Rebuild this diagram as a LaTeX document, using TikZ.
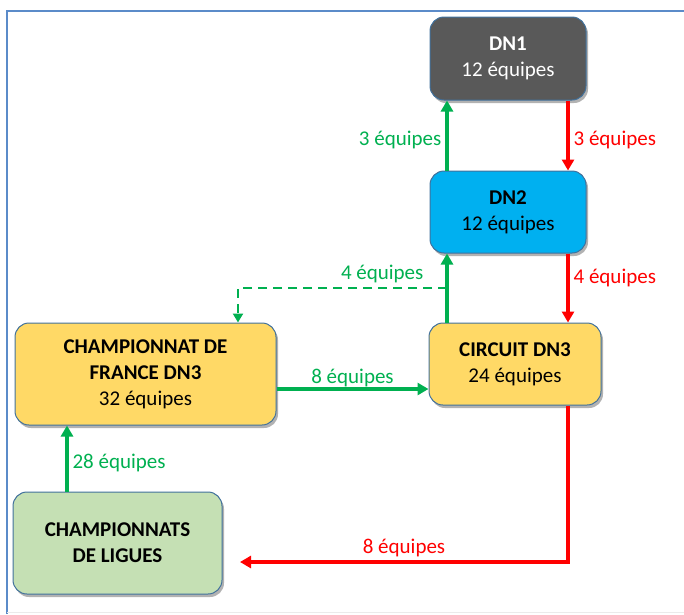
\documentclass[tikz,border=0pt]{standalone}
\usepackage{fontspec}
\setmainfont{Carlito}
\usetikzlibrary{arrows.meta,shadows}

\definecolor{grisdn}{HTML}{595959}
\definecolor{bleudn}{HTML}{00B0F0}
\definecolor{jaunedn}{HTML}{FFD966}
\definecolor{vertligue}{HTML}{C5E0B4}
\definecolor{bordure}{HTML}{41719C}
\definecolor{cadre}{HTML}{5B8BC9}
\definecolor{montee}{HTML}{00B050}
\definecolor{descente}{HTML}{FF0000}

\tikzset{
  box/.style={draw=bordure, line width=1pt, rounded corners=14pt, align=center,
    inner sep=0pt, font=\fontsize{21}{26}\selectfont,
    drop shadow={shadow xshift=2pt, shadow yshift=-3pt, opacity=.3, fill=black}},
  fleche/.style={line width=3.2pt, -{Triangle[width=12pt,length=11pt]}},
  lbl/.style={inner sep=4pt, font=\fontsize{21}{24}\selectfont},
  bas/.style={yshift=-4pt}
}

\begin{document}
\begin{tikzpicture}[x=1pt,y=-1pt]
      \useasboundingbox (0,0) rectangle (684,614);
      \draw[cadre, line width=2pt] (7,614) -- (7,11) -- (684,11);
      \draw[black!8, line width=1pt] (7,612) -- (684,612);

      \begin{scope}[every node/.style={box}]
        \node[fill=grisdn, text=white, minimum width=156pt, minimum height=83pt]
          (dn1) at (508,58.5) {\textbf{DN1}\\12 équipes};
        \node[fill=bleudn, minimum width=156pt, minimum height=82pt]
          (dn2) at (508,212) {\textbf{DN2}\\12 équipes};
        \node[fill=jaunedn, minimum width=172pt, minimum height=82pt]
          (circuit) at (515,364) {\textbf{CIRCUIT DN3}\\24 équipes};
        \node[fill=jaunedn, minimum width=261pt, minimum height=102pt]
          (france) at (145.5,374) {\textbf{CHAMPIONNAT DE}\\\textbf{FRANCE DN3}\\32 équipes};
        \node[fill=vertligue, minimum width=209pt, minimum height=102pt]
          (ligues) at (117.5,543) {\textbf{CHAMPIONNATS}\\\textbf{DE LIGUES}};
      \end{scope}

      % colonnes des fleches
      \coordinate (up)   at (447,0);
      \coordinate (down) at (568,0);
      \coordinate (fork) at (447,288);
      \coordinate (cf)   at (238,0);
      \coordinate (mid)  at (0,389);
      \coordinate (lcol) at (67,0);
      \coordinate (ret)  at (240,562);

      \begin{scope}[every node/.style={lbl}]
        \draw[fleche, montee] (dn2.north -| up) -- node[left, bas, text=montee] {3 équipes} (dn1.south -| up);
        \draw[fleche, descente] (dn1.south -| down) -- node[right, bas, text=descente] {3 équipes} (dn2.north -| down);
        \draw[fleche, montee] (circuit.north -| up) -- (dn2.south -| up);
        \draw[fleche, descente] (dn2.south -| down) -- node[right, text=descente, pos=.35] {4 équipes} (circuit.north -| down);
        \draw[montee, line width=2.8pt, dash pattern=on 9pt off 6pt, -{Triangle[width=10pt,length=9pt]}]
          (fork) -- node[above, pos=.31, text=montee] {4 équipes} (fork -| cf) -- (france.north -| cf);
        \draw[fleche, montee] (france.east |- mid) -- node[above, yshift=-3pt, text=montee] {8 équipes} (circuit.west |- mid);
        \draw[fleche, montee] (ligues.north -| lcol) -- node[right, bas, text=montee] {28 équipes} (france.south -| lcol);
        \draw[fleche, descente] (circuit.south -| down) -- (down |- ret) -- node[above, text=descente] {8 équipes} (ret);
      \end{scope}

    \end{tikzpicture}
\end{document}
